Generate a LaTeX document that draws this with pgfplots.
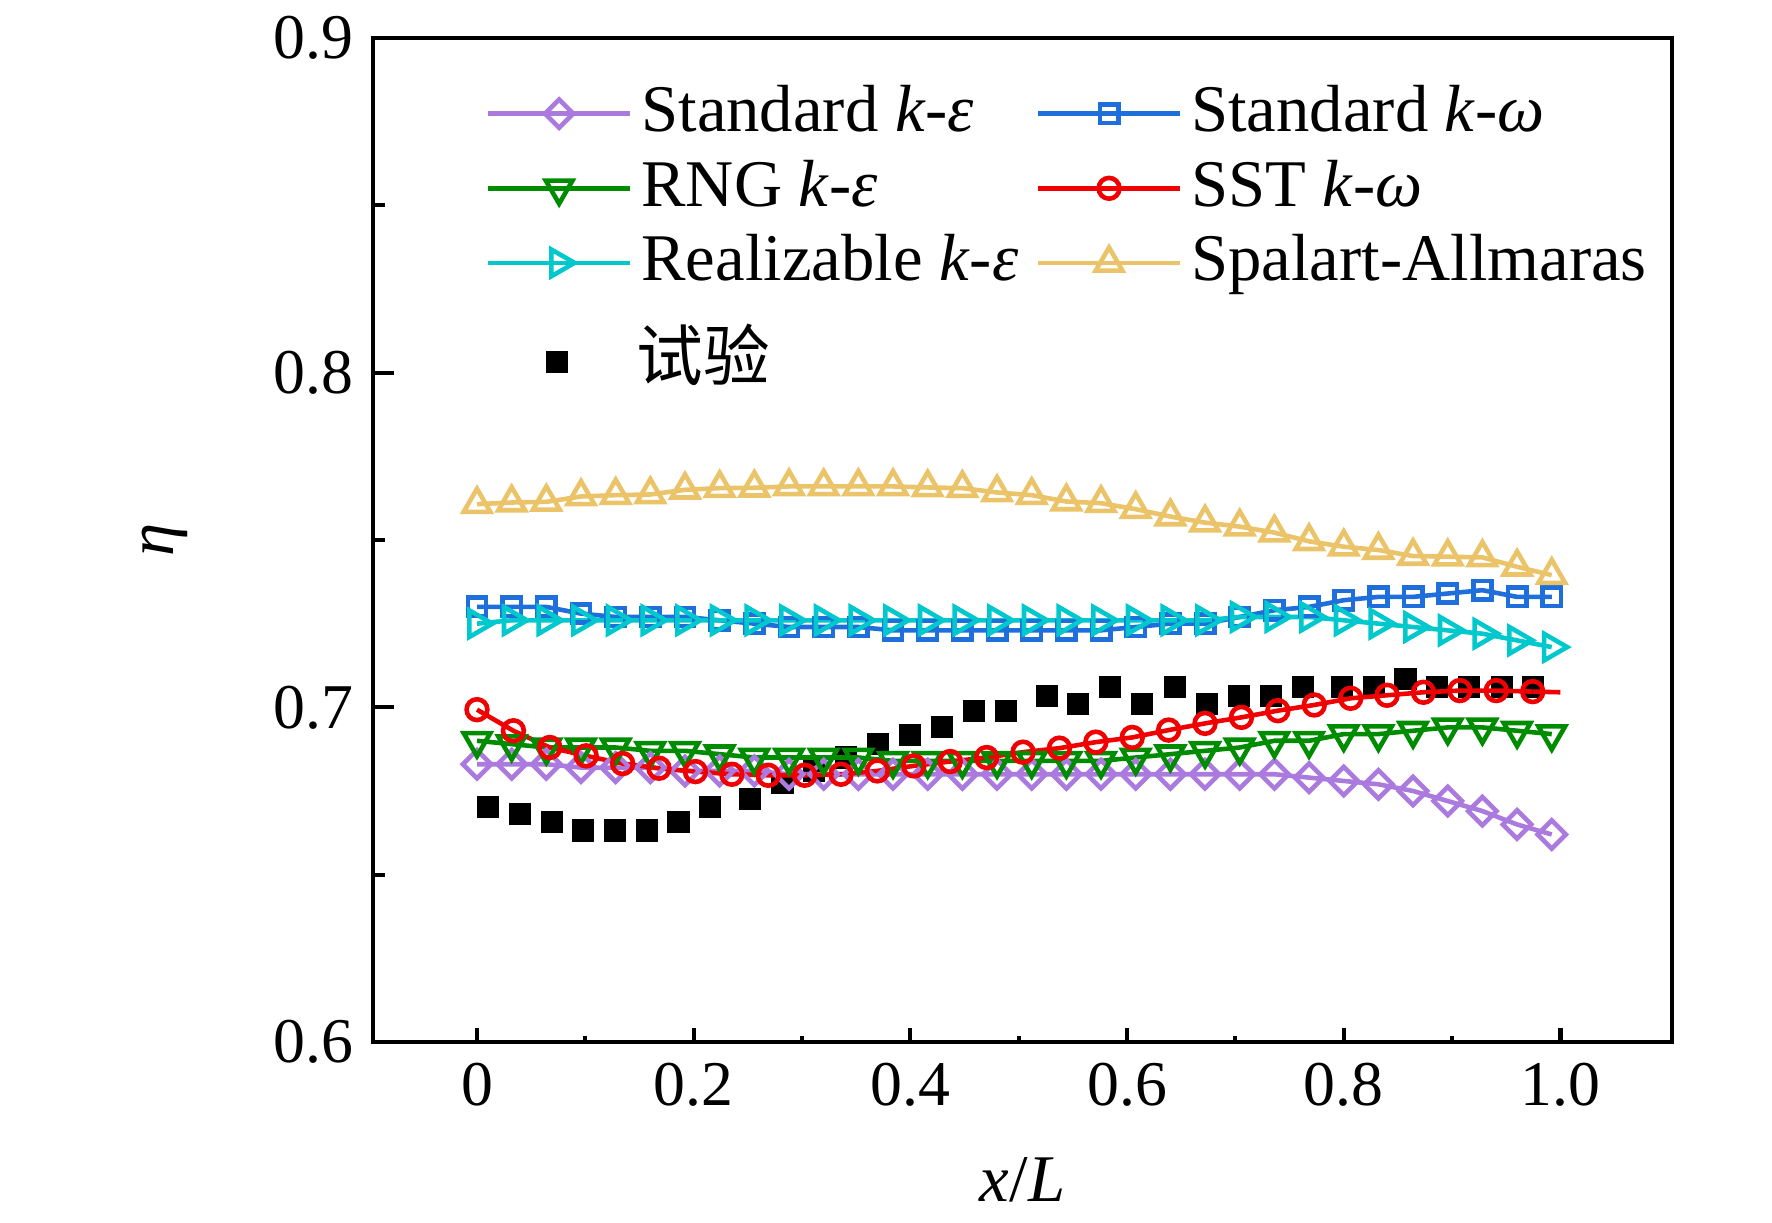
\documentclass[border=0pt]{standalone}
\usepackage{fontspec}
\setmainfont{Liberation Serif}
\newfontfamily\cjk{Noto Sans CJK SC}
\usepackage{pgfplots}
\pgfplotsset{compat=1.18}
\usepackage{pgfplotstable}

\definecolor{cske}{RGB}{170,122,222}
\definecolor{cskw}{RGB}{30,110,220}
\definecolor{crng}{RGB}{0,140,0}
\definecolor{csst}{RGB}{240,0,0}
\definecolor{crke}{RGB}{0,200,205}
\definecolor{csa}{RGB}{235,195,105}

\pgfplotstableread{
x ske skw rng rke sa
0.000 0.683 0.730 0.690 0.725 0.7607
0.032 0.683 0.730 0.689 0.726 0.7612
0.064 0.683 0.730 0.688 0.726 0.7614
0.096 0.682 0.728 0.688 0.726 0.7630
0.128 0.682 0.727 0.688 0.726 0.7634
0.160 0.682 0.727 0.687 0.726 0.7636
0.192 0.681 0.727 0.687 0.726 0.7650
0.224 0.681 0.726 0.686 0.726 0.7655
0.256 0.681 0.725 0.685 0.726 0.7656
0.288 0.680 0.724 0.685 0.726 0.7660
0.320 0.680 0.724 0.685 0.726 0.7660
0.352 0.680 0.724 0.685 0.726 0.7660
0.384 0.680 0.723 0.684 0.726 0.7660
0.416 0.680 0.723 0.684 0.726 0.7657
0.448 0.680 0.723 0.684 0.726 0.7655
0.480 0.680 0.723 0.684 0.726 0.7642
0.512 0.680 0.723 0.684 0.726 0.7634
0.544 0.680 0.723 0.684 0.726 0.7615
0.576 0.680 0.723 0.684 0.726 0.7610
0.608 0.680 0.724 0.685 0.726 0.7592
0.640 0.680 0.725 0.686 0.726 0.7570
0.672 0.680 0.725 0.687 0.726 0.7552
0.704 0.680 0.727 0.688 0.727 0.7540
0.736 0.680 0.729 0.690 0.727 0.7522
0.768 0.679 0.730 0.690 0.727 0.7496
0.800 0.678 0.732 0.692 0.726 0.7480
0.832 0.677 0.733 0.692 0.725 0.7470
0.864 0.675 0.733 0.693 0.724 0.7452
0.896 0.672 0.734 0.694 0.723 0.7450
0.928 0.669 0.735 0.694 0.722 0.7448
0.960 0.665 0.733 0.693 0.720 0.7420
0.992 0.662 0.733 0.692 0.718 0.7395
}\models

\pgfplotstableread{
x y
0.0000 0.6993
0.0336 0.6930
0.0672 0.6880
0.1008 0.6855
0.1344 0.6832
0.1680 0.6818
0.2016 0.6808
0.2352 0.6800
0.2688 0.6797
0.3024 0.6797
0.3360 0.6800
0.3696 0.6810
0.4032 0.6825
0.4368 0.6838
0.4704 0.6850
0.5040 0.6866
0.5376 0.6878
0.5712 0.6896
0.6048 0.6910
0.6384 0.6932
0.6720 0.6952
0.7056 0.6970
0.7392 0.6990
0.7728 0.7007
0.8064 0.7027
0.8400 0.7036
0.8736 0.7045
0.9072 0.7050
0.9408 0.7050
0.9744 0.7047
}\sst

\pgfplotstableread{
x y
0.010 0.6703
0.040 0.6680
0.069 0.6656
0.098 0.6632
0.127 0.6632
0.157 0.6632
0.186 0.6656
0.215 0.6703
0.252 0.6727
0.282 0.6775
0.311 0.6810
0.341 0.6850
0.370 0.6890
0.400 0.6917
0.429 0.6940
0.459 0.6990
0.488 0.6990
0.526 0.7035
0.555 0.7010
0.584 0.7060
0.614 0.7010
0.644 0.7060
0.674 0.7010
0.703 0.7035
0.733 0.7035
0.762 0.7060
0.798 0.7060
0.828 0.7060
0.857 0.7085
0.886 0.7060
0.916 0.7060
0.946 0.7060
0.975 0.7060
}\expdata

\pgfplotsset{
  base/.style={
    width=311.76pt, height=240.96pt, scale only axis,
    xmin=-0.096, xmax=1.103, ymin=0.6, ymax=0.9,
    legend cell align=left,
    legend image code/.code={\draw[mark repeat=2,mark phase=2,##1] plot coordinates {(0pt,0pt) (17pt,0pt) (34pt,0pt)};},
    legend style={draw=none, fill=none, inner sep=0pt, outer sep=0pt,
      anchor=north west, row sep=3.4pt,
      font=\fontsize{16pt}{19pt}\selectfont,
      nodes={inner xsep=2.2pt, inner ysep=0pt, text height=11.5pt, text depth=3pt},
      /tikz/every even column/.append style={column sep=2pt}},
  },
  markonlylegend/.style={
    legend image code/.code={\path[draw=none] (0pt,0pt) -- (34pt,0pt); \draw[##1] plot coordinates {(17pt,0pt)};}
  }
}

\begin{document}
\begin{tikzpicture}
% experimental data (drawn first, beneath the simulations)
\begin{axis}[base, hide axis,
  legend style={at={(axis cs:0.0083,0.8121)}}]
\addplot[only marks, mark=square*, mark size=2.5pt, black, line width=0.3pt, markonlylegend] table[x=x,y=y]{\expdata};
\addlegendentry{{\cjk 试验}}
\end{axis}

\begin{axis}[base,
  legend columns=2,
  legend style={at={(axis cs:0.0083,0.8864)}},
  axis line style={line width=1pt},
  tick align=inside, tick pos=left,
  tick style={line width=1pt, black},
  major tick length=5pt, minor tick length=2.8pt,
  xtick style={/pgfplots/major tick length=3.4pt, /pgfplots/minor tick length=1.4pt},
  xtick={0,0.2,0.4,0.6,0.8,1.0},
  xticklabels={0,0.2,0.4,0.6,0.8,1.0},
  minor xtick={0.1,0.3,0.5,0.7,0.9},
  ytick={0.6,0.7,0.8,0.9},
  yticklabels={0.6,0.7,0.8,0.9},
  minor ytick={0.65,0.75,0.85},
  /pgf/number format/assume math mode=true,
  tick label style={font=\fontsize{15.3pt}{18pt}\selectfont},
  xticklabel style={yshift=-1.6pt},
  yticklabel style={xshift=-1.1pt},
  xlabel={\textit{x}/\textit{L}},
  xlabel style={at={(axis description cs:0.5,0)}, anchor=base, yshift=-38.4pt, font=\fontsize{16pt}{19pt}\selectfont},
  ylabel={\textit{η}},
  ylabel style={at={(axis description cs:-0.16,0.5)}, anchor=center, font=\fontsize{16pt}{19pt}\selectfont},
  every axis plot/.append style={line width=1.1pt},
]
\addplot[color=cske, mark=square, mark size=2.4pt, mark options={solid, fill=white, rotate=45}] table[x=x,y=ske]{\models};
\addlegendentry{Standard \textit{k}-\textit{ε}}
\addplot[color=cskw, mark=square, mark size=2.2pt, mark options={solid, fill=white}] table[x=x,y=skw]{\models};
\addlegendentry{Standard \textit{k}-\textit{ω}}
\addplot[color=crng, mark=triangle, mark size=3.7pt, mark options={solid, fill=white, rotate=180}] table[x=x,y=rng]{\models};
\addlegendentry{RNG \textit{k}-\textit{ε}}
\addplot[color=csst, forget plot] coordinates {(0.9744,0.7047) (1.0,0.7045)};
\addplot[color=csst, mark=o, mark size=2.5pt, mark options={solid, fill=white}] table[x=x,y=y]{\sst};
\addlegendentry{SST \textit{k}-\textit{ω}}
\addplot[color=crke, mark=triangle, mark size=3.7pt, mark options={solid, fill=white, rotate=-90}] table[x=x,y=rke]{\models};
\addlegendentry{Realizable \textit{k}-\textit{ε}}
\addplot[color=csa, mark=triangle, mark size=3.7pt, mark options={solid, fill=white}] table[x=x,y=sa]{\models};
\addlegendentry{Spalart-Allmaras}
\end{axis}
\pgfresetboundingbox
\path (-89.52pt,-43.44pt) rectangle (335.76pt,250.08pt);
\end{tikzpicture}
\end{document}
